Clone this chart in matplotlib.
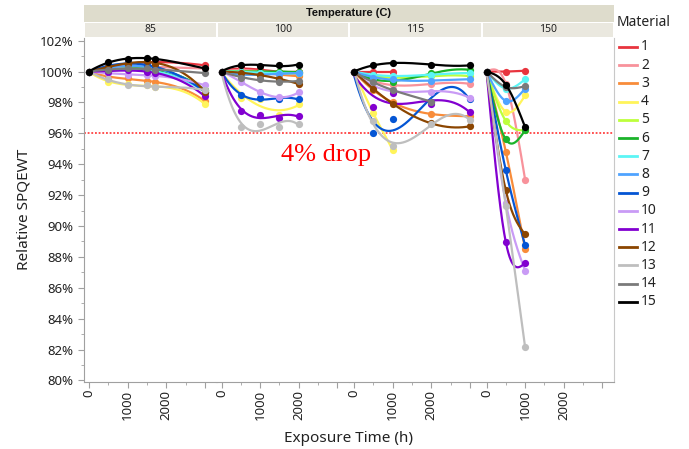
import numpy as np
import matplotlib
matplotlib.use('Agg')
import matplotlib.pyplot as plt
from matplotlib.patches import Rectangle
from matplotlib.lines import Line2D

# ---------------- data ----------------
temps = ['85', '100', '115', '150']
materials = [str(i) for i in range(1, 16)]
colors = ['#E8343E', '#F8929B', '#F88C3A', '#FFF45A', '#BDFF3C', '#1BB32A',
          '#5CF5F5', '#4FA3FF', '#0455D4', '#C99BF5', '#8200D0', '#8B4500',
          '#BEBEBE', '#7A7A7A', '#000000']

nan = np.nan
times_85 = [0, 500, 1000, 1500, 1700, 3000]
rel_85 = [
    [100, 100.3, 100.5, 100.6, 100.6, 100.4],   # 1
    [100, 100.2, 100.3, 100.3, 100.3, 100.2],   # 2
    [100, 99.6, 99.6, 99.4, 99.3, 98.1],        # 3
    [100, 99.3, 99.2, 99.1, 99.0, 97.9],        # 4
    [100, 100.1, 100.2, 100.2, 100.1, 98.8],    # 5
    [100, 100.1, 100.2, 100.2, 100.1, 98.8],    # 6
    [100, 100.1, 100.2, 100.1, 100.0, 98.7],    # 7
    [100, 100.2, 100.4, 100.3, 100.2, 98.7],    # 8
    [100, 100.3, 100.6, 100.4, 100.3, 98.7],    # 9
    [100, 99.9, 99.8, 99.8, 99.7, 99.1],        # 10
    [100, 100.0, 100.1, 100.0, 99.9, 98.4],     # 11
    [100, 100.3, 100.5, 100.7, 100.5, 98.7],    # 12
    [100, 99.5, 99.1, 99.1, 99.0, 98.8],        # 13
    [100, 100.1, 100.2, 100.2, 100.1, 99.9],    # 14
    [100, 100.6, 100.8, 100.9, 100.8, 100.2],   # 15
]

times_100 = [0, 500, 1000, 1500, 2000]
rel_100 = [
    [100, 100.2, 100.1, 100.0, 100.0],   # 1
    [100, 100.1, 100.0, 99.9, 99.8],     # 2
    [100, 100.0, 99.9, 99.8, 99.7],      # 3
    [100, 98.3, 98.2, 97.2, 97.9],       # 4
    [100, 100.0, 100.0, 99.9, 99.9],     # 5
    [100, 100.0, 100.0, 100.0, 99.95],   # 6
    [100, 100.0, 99.9, 99.9, 99.9],      # 7
    [100, 99.8, 99.8, 99.85, 99.9],      # 8
    [100, 98.45, 98.3, 98.2, 98.2],      # 9
    [100, 99.35, 98.65, 98.35, 98.65],   # 10
    [100, 97.45, 97.2, 97.0, 97.1],      # 11
    [100, 99.9, 99.8, 99.5, 99.2],       # 12
    [100, 96.4, 96.6, 96.4, 96.6],       # 13
    [100, 99.6, 99.5, 99.3, 99.4],       # 14
    [100, 100.45, 100.35, 100.4, 100.45],  # 15
]

times_115 = [0, 500, 1000, 2000, 3000]
rel_115 = [
    [100, 100.0, 100.0, nan, nan],       # 1
    [100, 99.4, 99.1, 99.2, 99.2],       # 2
    [100, 98.8, 98.0, 97.25, 97.1],      # 3
    [100, 97.3, 94.95, nan, nan],        # 4
    [100, 99.7, 99.6, 99.7, 99.7],       # 5
    [100, 99.6, 99.3, 99.9, 100.1],      # 6
    [100, 99.8, 99.7, 99.8, 99.9],       # 7
    [100, 99.6, 99.5, 99.4, 99.5],       # 8
    [100, 96.0, 96.9, 98.05, 98.2],      # 9
    [100, 99.0, 98.8, 98.7, 98.3],       # 10
    [100, 97.7, 98.6, 97.9, 97.4],       # 11
    [100, 98.9, 97.9, 96.65, 96.45],     # 12
    [100, 96.8, 95.2, 96.6, 96.85],      # 13
    [100, 99.3, 98.8, 98.05, nan],       # 14
    [100, 100.4, 100.55, 100.45, 100.4], # 15
]

times_150 = [0, 500, 1000]
rel_150 = [
    [100, 100.0, 100.05],   # 1
    [100, 99.2, 93.0],      # 2
    [100, 94.8, 88.5],      # 3
    [100, 97.4, 98.45],     # 4
    [100, 96.8, 96.2],      # 5
    [100, 95.6, 96.2],      # 6
    [100, 98.9, 99.5],      # 7
    [100, 98.1, 98.9],      # 8
    [100, 93.6, 88.75],     # 9
    [100, 91.5, 87.1],      # 10
    [100, 88.95, 87.6],     # 11
    [100, 92.3, 89.45],     # 12
    [100, 91.3, 82.15],     # 13
    [100, 99.0, 99.05],     # 14
    [100, 99.15, 96.4],     # 15
]

panel_times = [times_85, times_100, times_115, times_150]
panel_vals = [rel_85, rel_100, rel_115, rel_150]

yticks = [80, 82, 84, 86, 88, 90, 92, 94, 96, 98, 100, 102]
xticks = [0, 1000, 2000]
drop_level = 96


def natural_spline(x, y, xs):
    n = len(x)
    h = np.diff(x)
    A = np.zeros((n, n))
    r = np.zeros(n)
    A[0, 0] = 1
    A[-1, -1] = 1
    for i in range(1, n - 1):
        A[i, i - 1] = h[i - 1]
        A[i, i] = 2 * (h[i - 1] + h[i])
        A[i, i + 1] = h[i]
        r[i] = 6 * ((y[i + 1] - y[i]) / h[i] - (y[i] - y[i - 1]) / h[i - 1])
    M = np.linalg.solve(A, r)
    idx = np.clip(np.searchsorted(x, xs) - 1, 0, n - 2)
    x0, x1 = x[idx], x[idx + 1]
    hh = x1 - x0
    return (M[idx] * (x1 - xs) ** 3 / (6 * hh) + M[idx + 1] * (xs - x0) ** 3 / (6 * hh)
            + (y[idx] / hh - M[idx] * hh / 6) * (x1 - xs)
            + (y[idx + 1] / hh - M[idx + 1] * hh / 6) * (xs - x0))


def smooth(tt, vv, xs):
    if len(tt) <= 3:
        return natural_spline(tt, vv, xs)
    coef = np.polyfit(tt, vv, 3)
    return np.polyval(coef, xs)

# ---------------- figure ----------------
W, H = 689, 449
fig = plt.figure(figsize=(W / 100, H / 100), dpi=100)
plt.rcParams['font.family'] = ['Noto Sans', 'DejaVu Sans']

def fx(px):
    return px / W

def fy(py):
    return 1 - py / H

plot_left, plot_right = 84, 614
plot_top, plot_bottom = 38, 381.5
pw = (plot_right - plot_left) / 4

# header bands
fig.patches.append(Rectangle((fx(plot_left), fy(22)), fx(plot_right) - fx(plot_left),
                             fy(5) - fy(22), transform=fig.transFigure,
                             facecolor='#DEDCCC', edgecolor='none'))
fig.text(fx((plot_left + plot_right) / 2), fy(13.5), 'Temperature (C)', ha='center',
         va='center', fontsize=8, fontweight='bold', color='#111111',
         family=['Liberation Sans', 'DejaVu Sans'])
for i, t in enumerate(temps):
    l = plot_left + i * pw
    fig.patches.append(Rectangle((fx(l + 1), fy(37)), fx(pw - 2), fy(23) - fy(37),
                                 transform=fig.transFigure, facecolor='#EAE8DF',
                                 edgecolor='none'))
    fig.text(fx(l + pw / 2), fy(30), t, ha='center', va='center', fontsize=7.5,
             color='#222222')

ylo, yhi = 79.93, 102.17
for i in range(4):
    l = plot_left + i * pw
    ax = fig.add_axes([fx(l), fy(plot_bottom), fx(pw), fy(plot_top) - fy(plot_bottom)])
    ax.set_xlim(-130, -130 + pw / 38.6 * 1000)
    ax.set_ylim(ylo, yhi)
    for s in ['top', 'right', 'left']:
        ax.spines[s].set_visible(False)
    ax.spines['bottom'].set_color('#A0A0A0')
    ax.set_xticks([0, 1000, 2000, 3000])
    ax.set_xticklabels(['0', '1000', '2000', ''], rotation=90, fontsize=9.5,
                       color='#222222')
    ax.set_xticks([500, 1500, 2500], minor=True)
    ax.tick_params(axis='x', which='major', length=4, color='#A0A0A0', pad=2)
    ax.tick_params(axis='x', which='minor', length=2.5, color='#A0A0A0')
    if i == 0:
        ax.spines['left'].set_visible(True)
        ax.spines['left'].set_color('#A0A0A0')
        ax.set_yticks(yticks)
        ax.set_yticklabels(['%d%%' % v for v in yticks], fontsize=9.5, color='#222222')
        ax.set_yticks(np.arange(81, 102, 2), minor=True)
        ax.tick_params(axis='y', which='major', length=4, color='#A0A0A0')
        ax.tick_params(axis='y', which='minor', length=2.5, color='#A0A0A0')
        ax.set_ylabel('Relative SPQEWT', fontsize=11, color='#222222', labelpad=6)
    else:
        ax.set_yticks([])
    if i == 3:
        ax.spines['right'].set_visible(True)
        ax.spines['right'].set_color('#C8C8C8')

    ax.axhline(drop_level, color='#FF2020', linestyle=(0, (1.2, 1.2)), lw=1.1, zorder=1)

    t = np.array(panel_times[i], dtype=float)
    for m in range(15):
        v = np.array(panel_vals[i][m], dtype=float)
        ok = ~np.isnan(v)
        tt, vv = t[ok], v[ok]
        xs = np.linspace(0, tt.max(), 150)
        ax.plot(xs, smooth(tt / 1000, vv, xs / 1000), color=colors[m], lw=1.6,
                zorder=2 + m, solid_capstyle='round')
        ax.plot(tt, vv, 'o', color=colors[m], ms=5.2, mec='none', zorder=2 + m)

fig.text(fx(349), fy(438), 'Exposure Time (h)', ha='center', va='center',
         fontsize=11, color='#222222')
fig.text(fx(326), fy(155), '4% drop', ha='center', va='center', fontsize=19,
         color='#FF0000', family=['Liberation Serif', 'DejaVu Serif'])

# legend
fig.text(fx(617), fy(22), 'Material', ha='left', va='center', fontsize=10,
         color='#222222')
for m in range(15):
    yy = 47 + m * 18.2
    fig.add_artist(Line2D([fx(619), fx(637)], [fy(yy), fy(yy)], color=colors[m],
                          lw=2, transform=fig.transFigure))
    fig.text(fx(641), fy(yy), materials[m], ha='left', va='center', fontsize=10,
             color='#222222')

fig.savefig('out.png', dpi=100)
